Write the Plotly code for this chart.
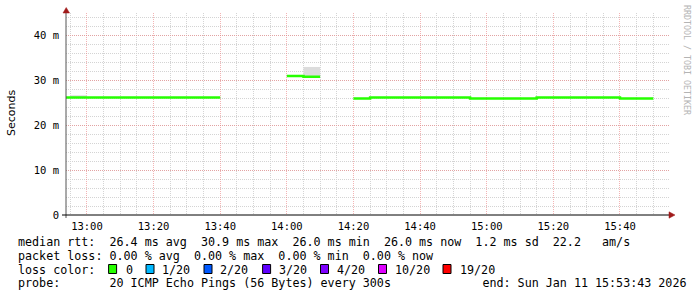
import plotly.graph_objects as go
from datetime import datetime, timedelta

# ---- data ----
step_starts = [datetime(2026, 1, 11, 12, 50) + timedelta(minutes=5 * i) for i in range(37)]
median_ms = (
    [26.1] * 10 + [None] * 4 + [30.9, 30.7] + [None] * 2 + [25.9] + [26.1] * 6
    + [25.9] * 4 + [26.1] * 5 + [25.9] * 2 + [None]
)
smoke_hi_ms = list(median_ms)
smoke_hi_ms[1] = 26.6
smoke_hi_ms[15] = 32.9

y_tick_vals = [0, 10, 20, 30, 40]
y_tick_text = ["0", "10 m", "20 m", "30 m", "40 m"]

legend_lines = [
    "median rtt:  26.4 ms avg  30.9 ms max  26.0 ms min  26.0 ms now  1.2 ms sd  22.2   am/s",
    "packet loss: 0.00 % avg  0.00 % max  0.00 % min  0.00 % now",
    "loss color:",
    "probe:       20 ICMP Echo Pings (56 Bytes) every 300s             end: Sun Jan 11 15:53:43 2026",
]
loss_labels = ["0", "1/20", "2/20", "3/20", "4/20", "10/20", "19/20"]
loss_colors = ["#26ff00", "#00b8ff", "#0059ff", "#5e00ff", "#7e00ff", "#dd00ff", "#ff0000"]
loss_box_x = [108.6, 146, 204, 262.6, 320.5, 378.5, 443]
loss_text_x = [123.7, 160, 218, 277, 334.7, 392.5, 457.5]

# ---- geometry helpers ----
W, H = 697, 297
L, R, T, B = 66, 669, 13, 215
def px(x):
    return (x - L) / (R - L)
def py(y):
    return (B - y) / (B - T)

STEP = timedelta(minutes=5)
fig = go.Figure()

# smoke
for t, lo, hi in zip(step_starts, median_ms, smoke_hi_ms):
    if lo is None or hi is None or hi <= lo:
        continue
    fig.add_trace(go.Scatter(
        x=[t, t + STEP, t + STEP, t, t], y=[lo, lo, hi, hi, lo],
        fill="toself", fillcolor="#dcdcdc", line=dict(width=0),
        mode="lines", hoverinfo="skip", showlegend=False))

# median line (step)
xs, ys = [], []
for i, (t, v) in enumerate(zip(step_starts, median_ms)):
    if v is None:
        continue
    xs.append(t); ys.append(v)
    nxt = median_ms[i + 1] if i + 1 < len(median_ms) else None
    if nxt is None:
        xs.append(t + STEP); ys.append(v)
        xs.append(t + STEP); ys.append(None)
fig.add_trace(go.Scatter(x=xs, y=ys, mode="lines", line=dict(color="#26ff00", width=2.5, shape="hv"),
                         connectgaps=False, showlegend=False, hoverinfo="skip"))

mono = "DejaVu Sans Mono"
major_grid = "rgba(235,130,130,0.6)"
minor_grid = "#d4d4d4"

fig.update_layout(
    width=W, height=H, autosize=False,
    margin=dict(l=L, r=W - R, t=T, b=H - B, pad=0),
    paper_bgcolor="white", plot_bgcolor="white",
    xaxis=dict(
        range=[datetime(2026, 1, 11, 12, 53, 43), datetime(2026, 1, 11, 15, 54, 43)],
        type="date", tick0=datetime(2026, 1, 11, 13, 0), dtick=20 * 60 * 1000,
        tickformat="%H:%M", showgrid=True, gridcolor=major_grid, griddash="1px,1px", gridwidth=1,
        minor=dict(dtick=5 * 60 * 1000, tick0=datetime(2026, 1, 11, 13, 0), showgrid=True,
                   gridcolor=minor_grid, griddash="1px,1px", gridwidth=1),
        showline=False, zeroline=False, ticks="", ticklabelstandoff=3,
        tickfont=dict(family=mono, size=10.5, color="#000"),
    ),
    yaxis=dict(
        range=[0, (B - T) / 4.5], tickvals=y_tick_vals, ticktext=y_tick_text,
        showgrid=True, gridcolor=major_grid, griddash="1px,1px", gridwidth=1,
        minor=dict(dtick=2, showgrid=True, gridcolor=minor_grid, griddash="1px,1px", gridwidth=1),
        showline=False, zeroline=False, ticks="", ticklabelstandoff=6,
        tickfont=dict(family=mono, size=10.5, color="#000"),
    ),
)

shapes = []
# axes
shapes.append(dict(type="line", xref="paper", yref="paper", x0=px(66), x1=px(66), y0=py(218), y1=py(11),
                   line=dict(color="#555", width=1)))
shapes.append(dict(type="line", xref="paper", yref="paper", x0=px(62), x1=px(671), y0=py(215), y1=py(215),
                   line=dict(color="#000", width=1)))
arrow_col = "#a01a1a"
shapes.append(dict(type="path", xref="paper", yref="paper",
                   path=f"M {px(63)},{py(13)} L {px(69.5)},{py(13)} L {px(66.2)},{py(7.5)} Z",
                   fillcolor=arrow_col, line=dict(color=arrow_col, width=0.5)))
shapes.append(dict(type="path", xref="paper", yref="paper",
                   path=f"M {px(669)},{py(211.8)} L {px(669)},{py(218.2)} L {px(675)},{py(215)} Z",
                   fillcolor=arrow_col, line=dict(color=arrow_col, width=0.5)))
# loss color boxes
for bx, col in zip(loss_box_x, loss_colors):
    shapes.append(dict(type="rect", xref="paper", yref="paper",
                       x0=px(bx), x1=px(bx + 8), y0=py(273.5), y1=py(264.5),
                       fillcolor=col, line=dict(color="#000", width=1)))
fig.update_layout(shapes=shapes)

LFONT = dict(family=mono, size=11.7, color="#000")
ann = []
row_y = [241.7, 255.7, 269.5, 283.3]
for yy, txt in zip(row_y, legend_lines):
    ann.append(dict(x=px(16), y=py(yy), xref="paper", yref="paper", text=txt.replace(" ", "&nbsp;"),
                    showarrow=False, xanchor="left", yanchor="middle", font=LFONT))
for xx, txt in zip(loss_text_x, loss_labels):
    ann.append(dict(x=px(xx), y=py(row_y[2]), xref="paper", yref="paper", text=txt, showarrow=False,
                    xanchor="left", yanchor="middle", font=LFONT))
ann.append(dict(x=px(11), y=py(113), xref="paper", yref="paper", text="Seconds", showarrow=False,
                textangle=-90, xanchor="center", yanchor="middle",
                font=dict(family="DejaVu Sans", size=11, color="#000")))
ann.append(dict(x=px(687), y=py(60), xref="paper", yref="paper", text="RRDTOOL / TOBI OETIKER",
                showarrow=False, textangle=90, xanchor="center", yanchor="middle",
                font=dict(family=mono, size=8.3, color="#b4b4b4")))
fig.update_layout(annotations=ann)

fig.write_html("out.html")
